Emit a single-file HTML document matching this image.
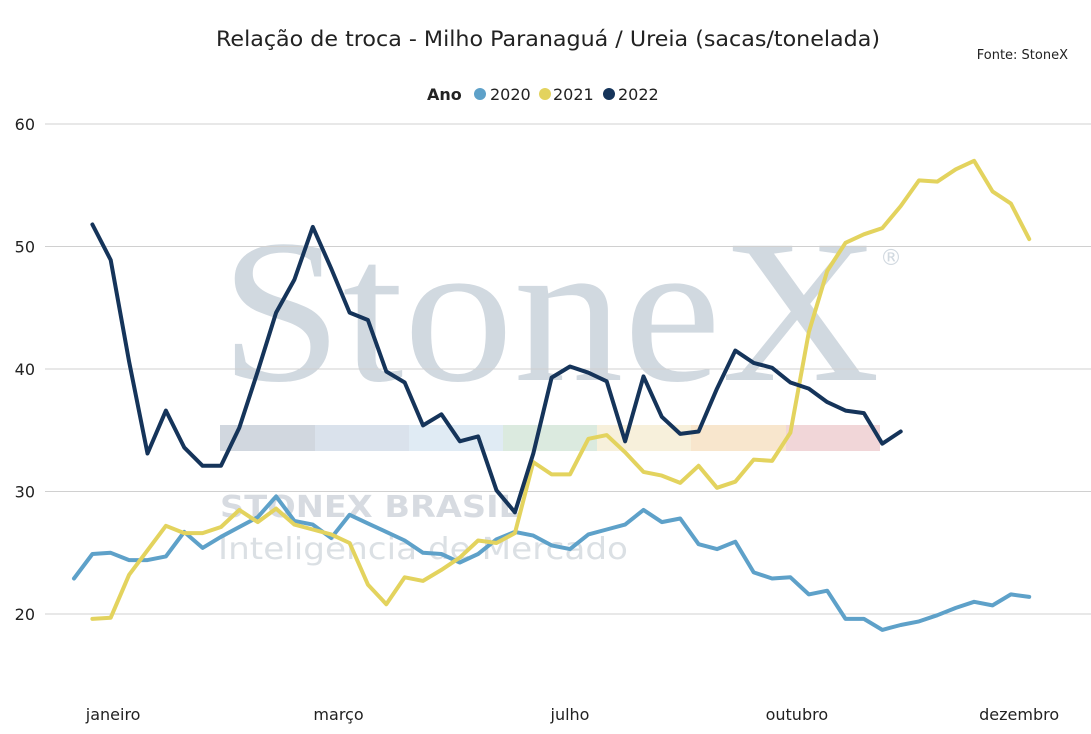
<!DOCTYPE html>
<html><head><meta charset="utf-8"><style>
body{margin:0;background:#fff;font-family:"DejaVu Sans","Liberation Sans",sans-serif;}
svg{display:block}
</style></head><body>
<svg id="c" width="1091" height="734">
<g opacity="0.9">
<text x="220" y="380" font-family="Liberation Serif,serif" font-size="205" fill="#cdd5dd" textLength="660" lengthAdjust="spacingAndGlyphs">StoneX</text>
<text x="880" y="265" font-size="22" fill="#cdd5dd">®</text>
<rect x="220" y="425" width="95" height="26" fill="#cdd3dc"/>
<rect x="315" y="425" width="94" height="26" fill="#d6dfea"/>
<rect x="409" y="425" width="94" height="26" fill="#dde9f3"/>
<rect x="503" y="425" width="94" height="26" fill="#d8e8dc"/>
<rect x="597" y="425" width="94" height="26" fill="#f7efd8"/>
<rect x="691" y="425" width="95" height="26" fill="#f8e4c8"/>
<rect x="786" y="425" width="94" height="26" fill="#f0d2d4"/>
<text x="220" y="517" font-size="30" font-weight="bold" fill="#d3d8de" textLength="300" lengthAdjust="spacingAndGlyphs">STONEX BRASIL</text>
<text x="218" y="559" font-size="30" fill="#d8dde2" textLength="410" lengthAdjust="spacingAndGlyphs">Inteligência de Mercado</text>
</g>
<text x="548" y="46" text-anchor="middle" font-size="21" fill="#222" textLength="664" lengthAdjust="spacingAndGlyphs">Relação de troca - Milho Paranaguá / Ureia (sacas/tonelada)</text>
<text x="1068" y="59" text-anchor="end" font-size="13" fill="#222">Fonte: StoneX</text>
<g font-size="16" fill="#222">
<text x="427" y="100" font-weight="bold">Ano</text>
<g><circle cx="480" cy="94" r="6" fill="#5ea1c9"/><text x="490" y="100">2020</text></g>
<g><circle cx="545" cy="94" r="6" fill="#e3d35e"/><text x="553" y="100">2021</text></g>
<g><circle cx="609" cy="94" r="6" fill="#15345a"/><text x="618" y="100">2022</text></g>
</g>
<g id="grid"></g><g id="lines"></g><g id="xl"></g>
</svg>
<script>
const yTicks=[20,30,40,50,60];
const monthLabels=["janeiro","março","julho","outubro","dezembro"];
const monthIdx=[2.13,14.4,27.0,39.35,51.45];
const s2020=[22.9,24.9,25.0,24.4,24.4,24.7,26.7,25.4,26.3,27.1,27.9,29.6,27.6,27.3,26.2,28.1,27.4,26.7,26.0,25.0,24.9,24.2,24.9,26.1,26.7,26.4,25.6,25.3,26.5,26.9,27.3,28.5,27.5,27.8,25.7,25.3,25.9,23.4,22.9,23.0,21.6,21.9,19.6,19.6,18.7,19.1,19.4,19.9,20.5,21.0,20.7,21.6,21.4];
const s2021=[null,19.6,19.7,23.2,25.2,27.2,26.6,26.6,27.1,28.5,27.5,28.6,27.3,26.9,26.5,25.8,22.4,20.8,23.0,22.7,23.6,24.6,26.0,25.8,26.6,32.4,31.4,31.4,34.3,34.6,33.2,31.6,31.3,30.7,32.1,30.3,30.8,32.6,32.5,34.8,43.0,48.0,50.3,51.0,51.5,53.3,55.4,55.3,56.3,57.0,54.5,53.5,50.6];
const s2022=[null,51.8,48.9,40.6,33.1,36.6,33.6,32.1,32.1,35.2,39.8,44.6,47.3,51.6,48.2,44.6,44.0,39.8,38.9,35.4,36.3,34.1,34.5,30.1,28.3,33.1,39.3,40.2,39.7,39.0,34.1,39.4,36.1,34.7,34.9,38.4,41.5,40.5,40.1,38.9,38.4,37.3,36.6,36.4,33.9,34.9];
const X=i=>74+i*18.37, Y=v=>614-(v-20)*12.25;
const NS="http://www.w3.org/2000/svg";
const g=document.getElementById('grid'),L=document.getElementById('lines'),xl=document.getElementById('xl');
yTicks.forEach(t=>{
 const l=document.createElementNS(NS,'line');
 l.setAttribute('x1',45);l.setAttribute('x2',1091);l.setAttribute('y1',Y(t));l.setAttribute('y2',Y(t));
 l.setAttribute('stroke','#d0d0d0');
 
 
 g.appendChild(l);
 const tx=document.createElementNS(NS,'text');
 tx.setAttribute('x',35);tx.setAttribute('y',Y(t)+6);tx.setAttribute('text-anchor','end');tx.setAttribute('font-size','16');tx.setAttribute('fill','#222');
 tx.textContent=t;
 
 
 g.appendChild(tx);
});
monthLabels.forEach((m,k)=>{
 const tx=document.createElementNS(NS,'text');
 tx.setAttribute('x',X(monthIdx[k]));tx.setAttribute('y',720);tx.setAttribute('text-anchor','middle');tx.setAttribute('font-size','16');tx.setAttribute('fill','#222');
 tx.textContent=m;
 
 
 xl.appendChild(tx);
});
[[s2020,'#5ea1c9','2020'],[s2021,'#e3d35e','2021'],[s2022,'#15345a','2022']].forEach(([s,c,n])=>{
 let d='';s.forEach((v,i)=>{if(v==null)return;d+=(d?'L':'M')+X(i).toFixed(1)+','+Y(v).toFixed(1);});
 const p=document.createElementNS(NS,'path');
 p.setAttribute('d',d);p.setAttribute('fill','none');p.setAttribute('stroke',c);p.setAttribute('stroke-width','4');p.setAttribute('stroke-linejoin','round');p.setAttribute('stroke-linecap','round');
 
 
 L.appendChild(p);
});
</script>
</body></html>
